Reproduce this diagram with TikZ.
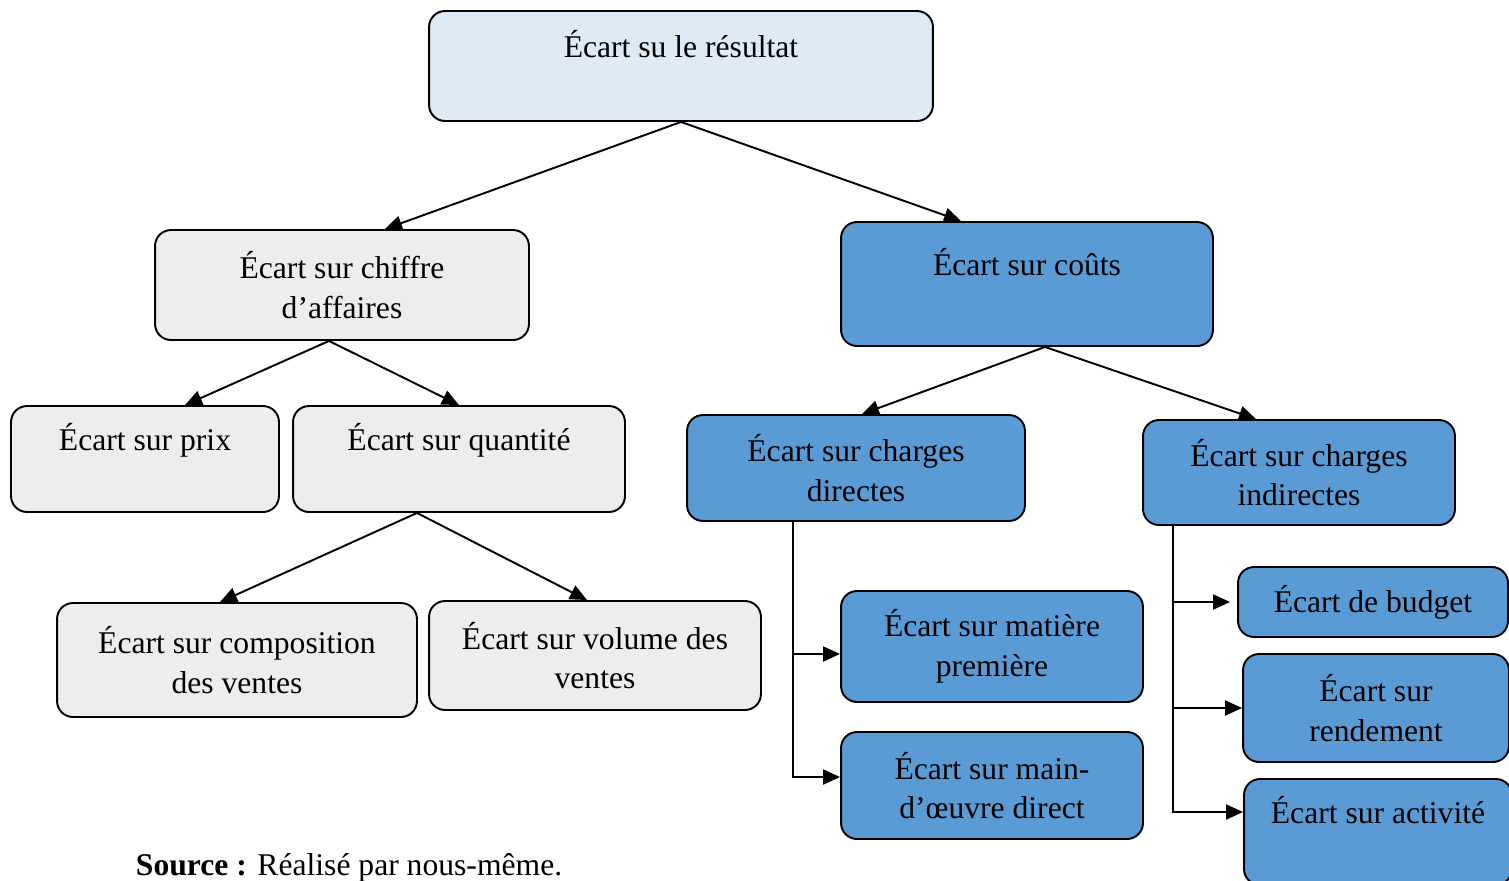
\documentclass[tikz,border=0pt]{standalone}
\usepackage{fontspec}
\setmainfont{Liberation Serif}
\usetikzlibrary{arrows.meta}
\definecolor{bleuclair}{HTML}{DEEAF6}
\definecolor{grisclair}{HTML}{EDEDED}
\definecolor{bleufonce}{HTML}{5B9BD5}
\begin{document}
\begin{tikzpicture}[x=0.02cm,y=-0.02cm,line width=1.1pt,
  boite/.style={draw,rounded corners=0.32cm,align=center,inner sep=0pt,font=\fontsize{18}{22.5}\selectfont},
  clair/.style={boite,fill=bleuclair},
  gris/.style={boite,fill=grisclair},
  bleu/.style={boite,fill=bleufonce},
  fleche/.style={-{Triangle[length=0.34cm,width=0.3cm]}}]
\useasboundingbox (0,0) rectangle (1509,880);
% niveau 1
\node[clair,minimum width=10.08cm,minimum height=2.2cm] (resultat) at (681,66) {Écart su le résultat\\[-0.15cm] \strut};
% niveau 2
\node[gris,minimum width=7.48cm,minimum height=2.2cm] (chiffre) at (342,285) {Écart sur chiffre\\ d’affaires};
\node[bleu,minimum width=7.44cm,minimum height=2.48cm] (couts) at (1027,284) {Écart sur coûts\\[-0.15cm] \strut};
% niveau 3
\node[gris,minimum width=5.36cm,minimum height=2.12cm] (prix) at (145,459) {Écart sur prix\\[-0.15cm] \strut};
\node[gris,minimum width=6.64cm,minimum height=2.12cm] (quantite) at (459,459) {Écart sur quantité\\[-0.15cm] \strut};
\node[bleu,minimum width=6.76cm,minimum height=2.12cm] (directes) at (856,468) {Écart sur charges\\ directes};
\node[bleu,minimum width=6.24cm,minimum height=2.1cm] (indirectes) at (1299,472.5) {Écart sur charges\\ indirectes};
% niveau 4
\node[gris,minimum width=7.2cm,minimum height=2.28cm] (composition) at (237,660) {Écart sur composition\\ des ventes};
\node[gris,minimum width=6.64cm,minimum height=2.18cm] (volume) at (595,655.5) {Écart sur volume des\\ ventes};
\node[bleu,minimum width=6.04cm,minimum height=2.22cm] (matiere) at (992,646.5) {Écart sur matière\\ première};
\node[bleu,minimum width=6.04cm,minimum height=2.14cm] (main) at (992,785.5) {Écart sur main-\\ d’œuvre direct};
\node[bleu,minimum width=5.4cm,minimum height=1.4cm] (budget) at (1373,602) {Écart de budget};
\node[bleu,minimum width=5.32cm,minimum height=2.16cm] (rendement) at (1376,708) {Écart sur\\ rendement};
\node[bleu,minimum width=5.36cm,minimum height=2.12cm] (activite) at (1378,832) {Écart sur activité\\[-0.15cm] \strut};
% source
\node[anchor=west,inner sep=0pt,font=\fontsize{18}{22}\selectfont] (source) at (135,868) {\textbf{Source :} Réalisé par nous-même.};
% fleches
\draw[fleche] (resultat.south) -- ([xshift=0.86cm]chiffre.north);
\draw[fleche] (resultat.south) -- ([xshift=-1.32cm]couts.north);
\draw[fleche] ([xshift=-0.26cm]chiffre.south) -- ([xshift=0.8cm]prix.north);
\draw[fleche] ([xshift=-0.26cm]chiffre.south) -- (quantite.north);
\draw[fleche] ([xshift=-0.84cm]quantite.south) -- ([xshift=-0.34cm]composition.north);
\draw[fleche] ([xshift=-0.84cm]quantite.south) -- ([xshift=-0.16cm]volume.north);
\draw[fleche] ([xshift=0.36cm]couts.south) -- ([xshift=0.12cm]directes.north);
\draw[fleche] ([xshift=0.36cm]couts.south) -- ([xshift=-0.86cm]indirectes.north);
\draw[fleche] ([xshift=-1.26cm]directes.south) |- ([yshift=-0.15cm]matiere.west);
\draw[fleche] ([xshift=-1.26cm]directes.south) |- ([yshift=0.17cm]main.west);
\draw[fleche,shorten >=0.14cm] ([xshift=-2.52cm]indirectes.south) |- (budget.west);
\draw[fleche] ([xshift=-2.52cm]indirectes.south) |- (rendement.west);
\draw[fleche] ([xshift=-2.52cm]indirectes.south) |- ([yshift=0.4cm]activite.west);
\end{tikzpicture}
\end{document}
